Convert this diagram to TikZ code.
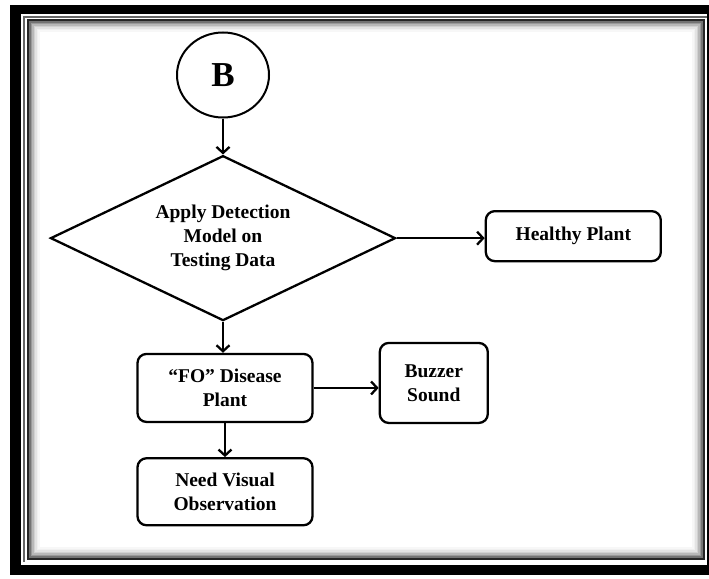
\documentclass[tikz,border=0pt]{standalone}
\usepackage{fontspec}
\setmainfont{Liberation Serif}
\usetikzlibrary{positioning,shapes.geometric,arrows.meta}

\begin{document}
\begin{tikzpicture}[x=1pt,y=-1pt,
		boxnode/.style={draw,line width=2.3pt,rounded corners=9pt,align=center,inner sep=0pt,font=\fontsize{19.5}{24}\selectfont\bfseries},
		flowline/.style={line width=2.3pt,-{Straight Barb[length=6pt,width=13pt,line width=2.3pt]}}]
			\useasboundingbox (0,0) rectangle (709,578);

			% frame
			\fill (10,5) rectangle (722,575);
			\fill[white] (21,14) rectangle (707,565);
			\draw[black!60,line width=1.2pt] (24,562) |- (707,17);
			\foreach \d/\s in {2/55,3.5/40,5/28,6.5/18,8/11,9.5/6,11/3}
				\draw[black!\s,line width=1.6pt] (28+\d,20+\d) rectangle (704-\d,559-\d);
			\draw[line width=2.5pt,black!85] (28,20) rectangle (704,559);

			\node[ellipse,draw,line width=2pt,minimum width=92pt,minimum height=85pt,inner sep=0pt,font=\fontsize{35}{35}\selectfont\bfseries]	(b)	at (223,75)	{B};
			\node[diamond,aspect=2.1,draw,line width=2.3pt,minimum width=345pt,minimum height=165pt,inner sep=0pt,align=center,font=\fontsize{19.5}{24}\selectfont\bfseries,node distance=36pt,below=of b]	(detect)	{Apply Detection\\Model on\\Testing Data};
			\node[boxnode,minimum width=175pt,minimum height=50pt,node distance=88pt,right=of detect,yshift=2pt]	(healthy)	{Healthy Plant};
			\node[boxnode,minimum width=175pt,minimum height=68pt,node distance=31pt,below=of detect,xshift=2pt]	(fo)	{“FO” Disease\\Plant};
			\node[boxnode,minimum width=108pt,minimum height=80pt,node distance=65pt,right=of fo,yshift=5pt]	(buzzer)	{Buzzer\\Sound};
			\node[boxnode,minimum width=175pt,minimum height=67pt,node distance=34pt,below=of fo]	(need)	{Need Visual\\Observation};

			\draw[flowline] (b) -- (detect);
			\draw[flowline] (detect.east) -- (detect.east -| healthy.west);
			\draw[flowline] (detect.south) -- (detect.south |- fo.north);
			\draw[flowline] (fo.east) -- (fo.east -| buzzer.west);
			\draw[flowline] (fo) -- (need);
		\end{tikzpicture}
\end{document}
